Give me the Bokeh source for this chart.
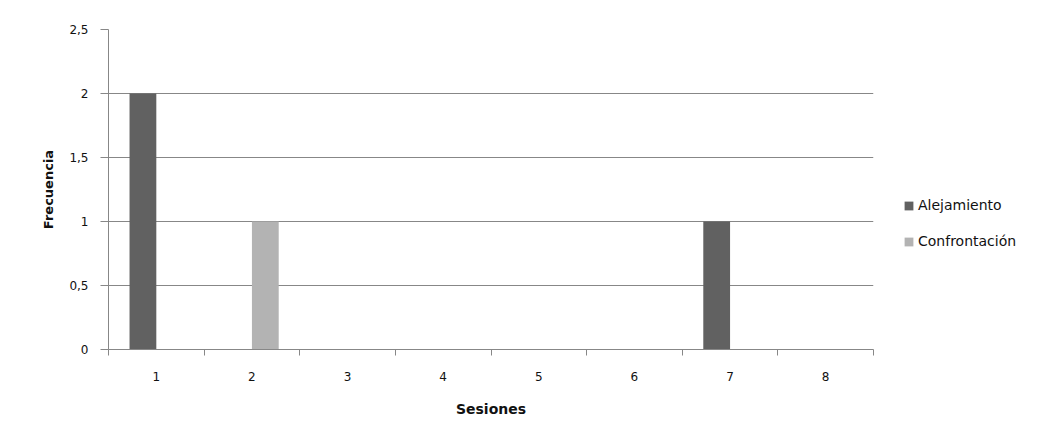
from bokeh.plotting import figure
from bokeh.models import (ColumnDataSource, Range1d, FixedTicker, Legend, LegendItem)
from bokeh.transform import dodge
from bokeh.embed import file_html
from bokeh.resources import INLINE

sesiones = [1, 2, 3, 4, 5, 6, 7, 8]
alejamiento = [2, 0, 0, 0, 0, 0, 1, 0]
confrontacion = [0, 1, 0, 0, 0, 0, 0, 0]
y_ticks = [0, 0.5, 1, 1.5, 2, 2.5]
y_labels = ["0", "0,5", "1", "1,5", "2", "2,5"]

src = ColumnDataSource(dict(x=sesiones, a=alejamiento, c=confrontacion))

FONT = "DejaVu Sans"
GRID = "#878787"

p = figure(frame_width=765, frame_height=320, output_backend="svg", toolbar_location=None,
           x_range=Range1d(0.5, 8.5), y_range=Range1d(0, 2.5),
           min_border_left=108, min_border_right=162, min_border_top=29,
           min_border_bottom=75)
p.outline_line_color = None
p.background_fill_color = "white"
p.border_fill_color = "white"

ra = p.vbar(x=dodge("x", -0.14), top="a", width=0.28, source=src,
            fill_color="#616161", line_color=None)
rc = p.vbar(x=dodge("x", 0.14), top="c", width=0.28, source=src,
            fill_color="#b3b3b3", line_color=None)

# x axis
p.xaxis.ticker = FixedTicker(ticks=sesiones, minor_ticks=[s - 0.5 for s in sesiones] + [8.5])
p.xaxis.major_tick_out = 0
p.xaxis.major_tick_in = 0
p.xaxis.minor_tick_out = 6
p.xaxis.minor_tick_in = 0
p.xaxis.minor_tick_line_color = GRID
p.xaxis.axis_line_color = GRID
p.xaxis.major_label_standoff = 16
p.xaxis.major_label_text_font = FONT
p.xaxis.major_label_text_font_size = "12px"
p.xaxis.major_label_text_color = "#111111"
p.xaxis.axis_label = "Sesiones"
p.xaxis.axis_label_text_font = FONT
p.xaxis.axis_label_text_font_size = "14px"
p.xaxis.axis_label_text_font_style = "bold"
p.xaxis.axis_label_text_color = "#111111"
p.xaxis.axis_label_standoff = 17
p.xgrid.grid_line_color = None

# y axis
p.yaxis.ticker = FixedTicker(ticks=y_ticks)
p.yaxis.major_label_overrides = {t: l for t, l in zip(y_ticks, y_labels)}
p.yaxis.major_tick_out = 8
p.yaxis.major_tick_in = 0
p.yaxis.minor_tick_line_color = None
p.yaxis.major_tick_line_color = GRID
p.yaxis.axis_line_color = GRID
p.yaxis.major_label_standoff = 12
p.yaxis.major_label_text_font = FONT
p.yaxis.major_label_text_font_size = "12px"
p.yaxis.major_label_text_color = "#111111"
p.yaxis.axis_label = "Frecuencia"
p.yaxis.axis_label_text_font = FONT
p.yaxis.axis_label_text_font_size = "13px"
p.yaxis.axis_label_text_font_style = "bold"
p.yaxis.axis_label_text_color = "#111111"
p.yaxis.axis_label_standoff = 10
p.ygrid.grid_line_color = GRID
p.ygrid.grid_line_width = 1

legend = Legend(items=[LegendItem(label="Alejamiento", renderers=[ra]),
                       LegendItem(label="Confrontación", renderers=[rc])],
                location=(30, 100), orientation="vertical",
                glyph_width=11, glyph_height=11, label_height=11,
                label_standoff=4, spacing=20, padding=0, margin=0,
                label_text_font=FONT, label_text_font_size="14px",
                label_text_color="#111111",
                border_line_color=None, background_fill_alpha=0)
p.add_layout(legend, "right")

open("out.html", "w").write(file_html(p, INLINE))
